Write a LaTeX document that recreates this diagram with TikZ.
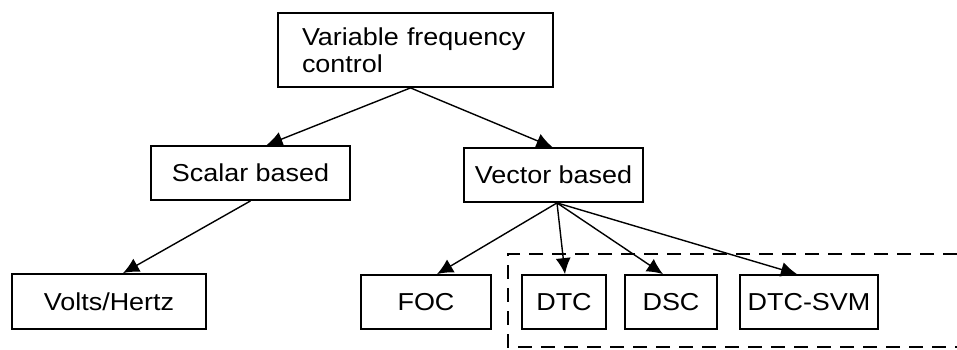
\documentclass[tikz,border=0pt]{standalone}
\usepackage{fontspec}
\setmainfont{Liberation Sans}[FakeStretch=1.1]
\usetikzlibrary{arrows.meta}
\begin{document}
\begin{tikzpicture}[x=1pt,y=-1pt,
  box/.style={draw=black,line width=1.8pt,rectangle,inner sep=0pt,font=\fontsize{24.5}{27}\selectfont},
  arr/.style={line width=1.4pt,-{Latex[length=16pt,width=15pt]}},
  grp/.style={line width=1.8pt,dash pattern=on 14pt off 9pt}]
\useasboundingbox[fill=white] (0,0) rectangle (957,349);
\node[box,minimum width=275pt,minimum height=74pt,text width=227pt,align=left] (vfc) at (415.5,50) {Variable frequency\\control};
\node[box,minimum width=199pt,minimum height=54pt] (scalar) at (250.5,173) {Scalar based};
\node[box,minimum width=179pt,minimum height=54pt] (vector) at (553.5,175) {Vector based};
\node[box,minimum width=194pt,minimum height=55pt] (vh) at (109,301.5) {Volts/Hertz};
\node[box,minimum width=130pt,minimum height=54pt] (foc) at (426,302) {FOC};
\node[box,minimum width=84pt,minimum height=54pt] (dtc) at (564,302) {DTC};
\node[box,minimum width=92pt,minimum height=54pt] (dsc) at (671,302) {DSC};
\node[box,minimum width=138pt,minimum height=54pt] (svm) at (809,302) {DTC-SVM};
\coordinate (g1) at (957,254);
\coordinate (g2) at (508,254);
\coordinate (g3) at (508,347);
\coordinate (g4) at (957,347);
\draw[grp] (g1) -- (g2) -- (g3) -- (g4);
\draw[arr] ([xshift=-5pt]vfc.south) -- ([xshift=16pt]scalar.north);
\draw[arr] ([xshift=-5pt]vfc.south) -- ([xshift=-1pt]vector.north);
\draw[arr] (scalar.south) -- ([xshift=14pt]vh.north);
\draw[arr] ([xshift=3.5pt]vector.south) -- ([xshift=11pt]foc.north);
\draw[arr] ([xshift=3.5pt]vector.south) -- ([xshift=1pt]dtc.north);
\draw[arr] ([xshift=3.5pt]vector.south) -- ([xshift=-8pt]dsc.north);
\draw[arr] ([xshift=3.5pt]vector.south) -- ([xshift=-12pt]svm.north);
\end{tikzpicture}
\end{document}
